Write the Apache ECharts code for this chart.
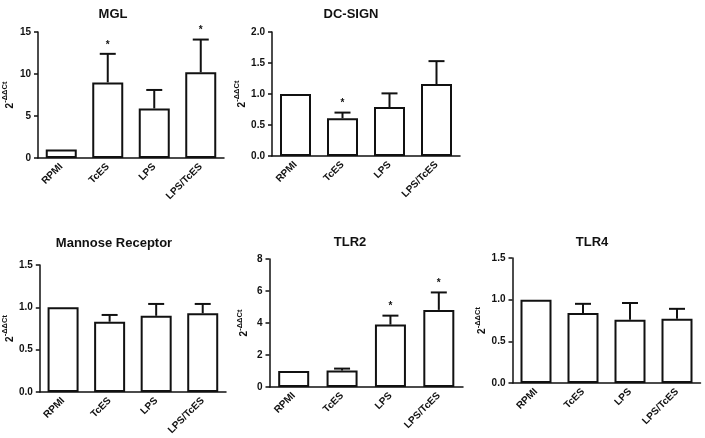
<!DOCTYPE html>
<html><head><meta charset="utf-8">
<script src="https://cdn.jsdelivr.net/npm/echarts@6/dist/echarts.min.js"></script>
<style>html,body{margin:0;padding:0;background:#fff}#c{width:705px;height:438px}</style>
</head><body><div id="c"></div>
<script>
const categories = ['RPMI', 'TcES', 'LPS', 'LPS/TcES'];
const titles = ['MGL', 'DC-SIGN', 'Mannose Receptor', 'TLR2', 'TLR4'];

const mglMean = [1.0, 9.0, 5.9, 10.2];
const mglUpper = [null, 12.4, 8.1, 14.1];
const mglSig = [0, 1, 0, 1];

const dcMean = [1.0, 0.61, 0.79, 1.16];
const dcUpper = [null, 0.70, 1.01, 1.53];
const dcSig = [0, 1, 0, 0];

const mrMean = [1.0, 0.83, 0.90, 0.93];
const mrUpper = [null, 0.91, 1.04, 1.04];
const mrSig = [0, 0, 0, 0];

const tlr2Mean = [1.0, 1.03, 3.9, 4.82];
const tlr2Upper = [null, 1.15, 4.46, 5.91];
const tlr2Sig = [0, 0, 1, 1];

const tlr4Mean = [1.0, 0.84, 0.76, 0.77];
const tlr4Upper = [null, 0.95, 0.96, 0.89];
const tlr4Sig = [0, 0, 0, 0];

const yMax = [15, 2, 1.5, 8, 1.5];
const yInterval = [5, 0.5, 0.5, 2, 0.5];
const yDecimals = [0, 1, 1, 0, 1];

const means = [mglMean, dcMean, mrMean, tlr2Mean, tlr4Mean];
const uppers = [mglUpper, dcUpper, mrUpper, tlr2Upper, tlr4Upper];
const sigs = [mglSig, dcSig, mrSig, tlr2Sig, tlr4Sig];

// layout (pixels)
const grids = [
  {left: 35, top: 32, width: 189, height: 126},
  {left: 272, top: 32, width: 188, height: 124},
  {left: 36, top: 265, width: 190, height: 127},
  {left: 269.5, top: 259, width: 193.5, height: 128},
  {left: 512.5, top: 258, width: 188, height: 125}
];
const titlePos = [[113, 14], [351, 14], [114, 243], [350, 242], [592, 242]];
const nameGaps = [23, 25, 24, 20, 20];

const FONT = 'Liberation Sans, Arial, sans-serif';

const option = {
  animation: false,
  backgroundColor: '#fff',
  graphic: titles.map((t, i) => ({
    type: 'text', x: titlePos[i][0], y: titlePos[i][1],
    style: {text: t, align: 'center', verticalAlign: 'middle',
      font: 'bold 13px ' + FONT, fill: '#111'}
  })),
  grid: grids.map(g => Object.assign({containLabel: false}, g)),
  xAxis: grids.map((g, i) => ({
    type: 'category', gridIndex: i, data: categories,
    axisLine: {lineStyle: {color: '#111', width: 1.5}},
    axisTick: {alignWithLabel: true, length: 4, lineStyle: {color: '#111', width: 1.2}},
    axisLabel: {rotate: 45, margin: 7, fontFamily: FONT, fontWeight: 'bold', fontSize: 10, color: '#111', interval: 0},
    splitLine: {show: false}
  })),
  yAxis: grids.map((g, i) => ({
    type: 'value', gridIndex: i, min: 0, max: yMax[i], interval: yInterval[i],
    name: '{b|2}{s|-ΔΔCt}', nameLocation: 'middle', nameRotate: 90, nameGap: nameGaps[i],
    nameTextStyle: {
      rich: {
        b: {fontFamily: FONT, fontWeight: 'bold', fontSize: 10, color: '#111', verticalAlign: 'bottom', lineHeight: 14},
        s: {fontFamily: FONT, fontWeight: 'bold', fontSize: 7.5, color: '#111', verticalAlign: 'top', lineHeight: 14, padding: [0, 0, 4, 0]}
      }
    },
    axisLine: {show: true, lineStyle: {color: '#111', width: 1.5}},
    axisTick: {show: true, inside: false, length: 4, lineStyle: {color: '#111', width: 1.5}},
    axisLabel: {margin: 7, fontFamily: FONT, fontWeight: 'bold', fontSize: 10, color: '#111',
      formatter: v => v.toFixed(yDecimals[i])},
    splitLine: {show: false}
  })),
  series: []
};

means.forEach((m, i) => {
  option.series.push({
    type: 'bar', xAxisIndex: i, yAxisIndex: i, data: m, barWidth: 31,
    itemStyle: {color: '#fff', borderColor: '#111', borderWidth: 2}
  });
  const errData = categories.map((c, k) => [k, m[k], uppers[i][k] == null ? m[k] : uppers[i][k], sigs[i][k]]);
  option.series.push({
    type: 'custom', xAxisIndex: i, yAxisIndex: i, data: errData, z: 10, clip: false,
    renderItem: (params, api) => {
      const k = api.value(0), mean = api.value(1), up = api.value(2), sig = api.value(3);
      const p0 = api.coord([k, mean]);
      const p1 = api.coord([k, up]);
      const children = [];
      if (up > mean) {
        children.push({type: 'line', shape: {x1: p0[0], y1: p0[1], x2: p1[0], y2: p1[1]}, style: {stroke: '#111', lineWidth: 2}});
        children.push({type: 'line', shape: {x1: p1[0] - 8, y1: p1[1], x2: p1[0] + 8, y2: p1[1]}, style: {stroke: '#111', lineWidth: 2}});
      }
      if (sig) {
        children.push({type: 'text', style: {text: '*', x: p1[0], y: p1[1] - 9, align: 'center', verticalAlign: 'middle',
          fontFamily: FONT, fontSize: 10, fontWeight: 'bold', fill: '#111'}});
      }
      return {type: 'group', children};
    }
  });
});

const chart = echarts.init(document.getElementById('c'), null, {renderer: 'canvas'});
chart.setOption(option);
</script>
</body></html>
